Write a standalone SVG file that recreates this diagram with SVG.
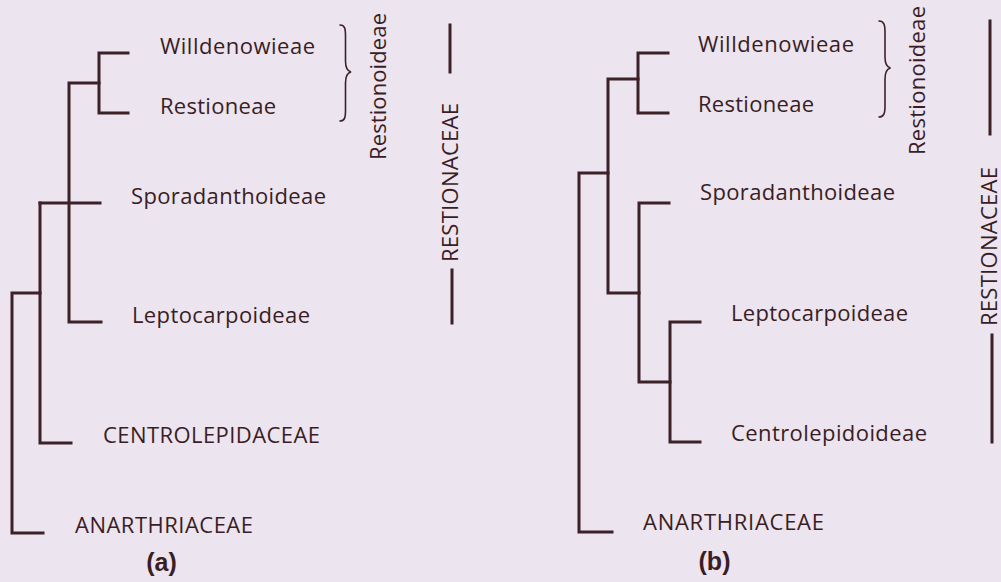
<svg xmlns="http://www.w3.org/2000/svg" width="1001" height="582" viewBox="0 0 1001 582">
<style>
.bg{fill:#ece4ee}
.ln{fill:none;stroke:#3d2128;stroke-width:3;stroke-linejoin:miter;stroke-linecap:square}
.br{fill:none;stroke:#3d2128;stroke-width:1.6;stroke-linecap:round}
.t{font-family:"Open Sans","Noto Sans",sans-serif;font-size:22px;fill:#3a1d24}
.p{font-family:"Liberation Sans",Arial,sans-serif;font-size:25px;font-weight:bold;fill:#3a1d24;text-anchor:middle}
</style>
<rect class="bg" x="0" y="0" width="1001" height="582"/>
<g id="connectors">
<g id="tree-a">
<path class="ln" d="M128,53 H99 V113 H128"/>
<path class="ln" d="M99,83 H69 V322 H101"/>
<path class="ln" d="M40,203 H100"/>
<path class="ln" d="M40,203 V443 H71"/>
<path class="ln" d="M40,293 H12 V533 H43"/>
</g>
<g id="tree-b">
<path class="ln" d="M668,53 H638 V113 H668"/>
<path class="ln" d="M638,79 H608 V293 H639"/>
<path class="ln" d="M608,173 H579 V532 H612"/>
<path class="ln" d="M669,203 H639 V382 H670"/>
<path class="ln" d="M700,322 H670 V442 H700"/>
</g>
</g>
<g id="panel-a">
<g id="a-willdenowieae"><text class="t" x="160" y="54" textLength="155" lengthAdjust="spacing">Willdenowieae</text></g>
<g id="a-restioneae"><text class="t" x="160" y="114" textLength="116" lengthAdjust="spacing">Restioneae</text></g>
<g id="a-sporadanthoideae"><text class="t" x="131" y="204" textLength="195" lengthAdjust="spacing">Sporadanthoideae</text></g>
<g id="a-leptocarpoideae"><text class="t" x="132" y="323" textLength="178" lengthAdjust="spacing">Leptocarpoideae</text></g>
<g id="a-centrolepidaceae"><text class="t" x="103" y="443" textLength="217" lengthAdjust="spacing">CENTROLEPIDACEAE</text></g>
<g id="a-anarthriaceae"><text class="t" x="75" y="533" textLength="178" lengthAdjust="spacing">ANARTHRIACEAE</text></g>
<g id="a-restionoideae">
<path class="br" d="M340,25 C345,25 345.5,29 345.5,36 L345.5,61 C345.5,67 347,71 351,72 C347,73 345.5,77 345.5,83 L345.5,110 C345.5,117 345,121 340,121"/>
<text class="t" transform="translate(386,160) rotate(-90)" textLength="147" lengthAdjust="spacing">Restionoideae</text>
</g>
<g id="a-restionaceae">
<path class="ln" d="M450,25 V72"/>
<path class="ln" d="M452,270 V323"/>
<text class="t" transform="translate(458,262) rotate(-90)" textLength="159" lengthAdjust="spacing">RESTIONACEAE</text>
</g>
<g id="a-label"><text class="p" x="161.5" y="571">(a)</text></g>
</g>
<g id="panel-b">
<g id="b-willdenowieae"><text class="t" x="698" y="52" textLength="156" lengthAdjust="spacing">Willdenowieae</text></g>
<g id="b-restioneae"><text class="t" x="698" y="112" textLength="116" lengthAdjust="spacing">Restioneae</text></g>
<g id="b-sporadanthoideae"><text class="t" x="700" y="200" textLength="195" lengthAdjust="spacing">Sporadanthoideae</text></g>
<g id="b-leptocarpoideae"><text class="t" x="731" y="321" textLength="177" lengthAdjust="spacing">Leptocarpoideae</text></g>
<g id="b-centrolepidoideae"><text class="t" x="731" y="441" textLength="196" lengthAdjust="spacing">Centrolepidoideae</text></g>
<g id="b-anarthriaceae"><text class="t" x="643" y="530" textLength="181" lengthAdjust="spacing">ANARTHRIACEAE</text></g>
<g id="b-restionoideae">
<path class="br" d="M879,21 C884,21 885,25 885,32 L885,57 C885,63 886.5,67 890.5,68 C886.5,69 885,73 885,79 L885,106 C885,113 884,117 879,117"/>
<text class="t" transform="translate(925,155) rotate(-90)" textLength="149" lengthAdjust="spacing">Restionoideae</text>
</g>
<g id="b-restionaceae">
<path class="ln" d="M990,21 V134"/>
<path class="ln" d="M992,335 V442"/>
<text class="t" transform="translate(997,326) rotate(-90)" textLength="159" lengthAdjust="spacing">RESTIONACEAE</text>
</g>
<g id="b-label"><text class="p" x="714.5" y="570">(b)</text></g>
</g>
</svg>
